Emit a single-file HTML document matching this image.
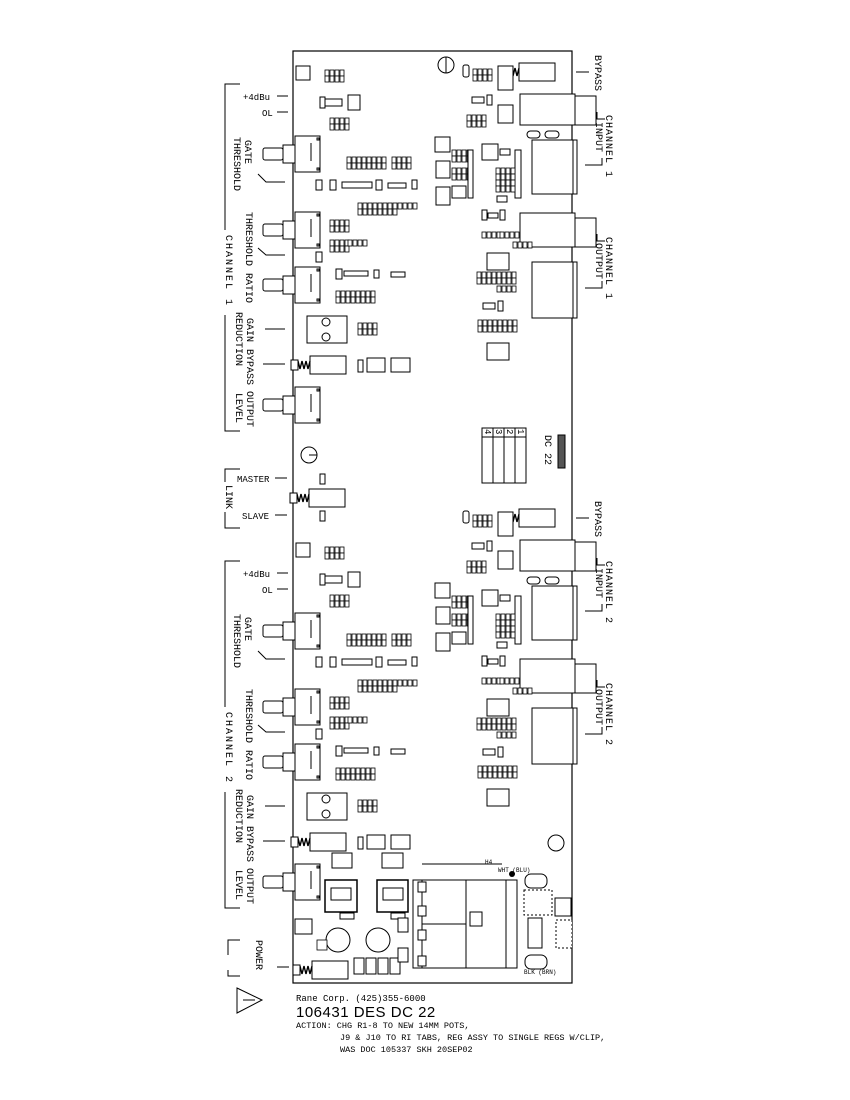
<!DOCTYPE html>
<html><head><meta charset="utf-8"><style>
html,body{margin:0;padding:0;background:#fff;}
svg{display:block;}
text{font-family:"Liberation Mono",monospace;fill:#000;}
</style></head><body>
<svg width="850" height="1100" viewBox="0 0 850 1100" xmlns="http://www.w3.org/2000/svg">
<defs>
<g id="pot">
 <rect x="295" y="0" width="25" height="36" fill="#fff" stroke="#000"/>
 <line x1="311" y1="7" x2="311" y2="25" stroke="#000"/>
 <rect x="317" y="2" width="2" height="2"/><rect x="317" y="32" width="2" height="2"/>
 <rect x="283" y="9" width="12" height="18" fill="#fff" stroke="#000"/>
 <rect x="263" y="12" width="20" height="12" rx="2" fill="#fff" stroke="#000"/>
</g>
<g id="r4"><rect x="0" y="0" width="4" height="6" fill="#fff" stroke="#000" stroke-width=".8"/><rect x="5" y="0" width="4" height="6" fill="#fff" stroke="#000" stroke-width=".8"/><rect x="10" y="0" width="4" height="6" fill="#fff" stroke="#000" stroke-width=".8"/><rect x="15" y="0" width="4" height="6" fill="#fff" stroke="#000" stroke-width=".8"/></g>
<g id="r4b"><use href="#r4"/><use href="#r4" y="6"/></g>
<g id="sw">
 <rect x="0" y="0" width="36" height="18" fill="#fff" stroke="#000"/>
 <path d="M0 5 l-2 8 l-2 -8 l-2 8 l-2 -8 l-2 8 l-2 -8" fill="none" stroke="#000" stroke-width="1.4"/>
 <rect x="-19" y="4" width="7" height="10" fill="#fff" stroke="#000"/>
</g>
<g id="left" fill="#fff" stroke="#000">
 <rect x="296" y="66" width="14" height="14"/>
 <use href="#r4b" x="325" y="70"/>
 <rect x="320" y="99" width="22" height="7"/><rect x="348" y="95" width="12" height="15"/>
 <rect x="320" y="97" width="5" height="11"/>
 <use href="#r4b" x="330" y="118"/>
 <use href="#pot" y="136"/>
 <use href="#r4b" x="347" y="157"/><use href="#r4b" x="367" y="157"/><use href="#r4b" x="392" y="157"/>
 <rect x="316" y="180" width="6" height="10"/><rect x="330" y="180" width="6" height="10"/>
 <rect x="342" y="182" width="30" height="6"/><rect x="376" y="180" width="6" height="10"/>
 <rect x="388" y="183" width="18" height="5"/><rect x="412" y="180" width="5" height="9"/>
 <use href="#r4b" x="358" y="203"/><use href="#r4b" x="378" y="203"/><use href="#r4" x="398" y="203"/>
 <use href="#pot" y="212"/>
 <use href="#r4b" x="330" y="220"/><use href="#r4b" x="330" y="240"/><use href="#r4" x="348" y="240"/>
 <rect x="316" y="252" width="6" height="10"/>
 <use href="#pot" y="267"/>
 <rect x="336" y="269" width="6" height="10"/><rect x="344" y="271" width="24" height="5"/>
 <rect x="374" y="270" width="5" height="8"/><rect x="391" y="272" width="14" height="5"/>
 <use href="#r4b" x="336" y="291"/><use href="#r4" x="356" y="291"/><use href="#r4" x="356" y="297"/>
 <rect x="307" y="316" width="40" height="27"/>
 <circle cx="326" cy="322" r="4"/><circle cx="326" cy="337" r="4"/>
 <use href="#r4b" x="358" y="323"/>
 <use href="#sw" x="310" y="356"/>
 <rect x="358" y="360" width="5" height="12"/><rect x="367" y="358" width="18" height="14"/><rect x="391" y="358" width="19" height="14"/>
 <use href="#pot" y="387"/>
</g>
<g id="right" fill="#fff" stroke="#000">
 <use href="#sw" x="519" y="63"/>
 <rect x="520" y="94" width="55" height="31"/><rect x="575" y="96" width="21" height="29"/>
 <rect x="532" y="140" width="41" height="54"/><rect x="573" y="140" width="4" height="54"/>
 <rect x="527" y="131" width="13" height="7" rx="3.5"/><rect x="545" y="131" width="14" height="7" rx="3.5"/>
 <rect x="463" y="65" width="6" height="12" rx="2"/><use href="#r4" x="473" y="69"/><use href="#r4" x="473" y="75"/>
 <rect x="498" y="66" width="15" height="24"/>
 <rect x="472" y="97" width="12" height="6"/><rect x="487" y="95" width="5" height="10"/>
 <use href="#r4b" x="467" y="115"/><rect x="498" y="105" width="15" height="18"/>
 <rect x="435" y="137" width="15" height="15"/><rect x="436" y="161" width="14" height="17"/><rect x="436" y="187" width="14" height="18"/>
 <use href="#r4b" x="452" y="150"/><use href="#r4b" x="452" y="168"/><rect x="452" y="186" width="14" height="12"/>
 <rect x="468" y="150" width="5" height="48"/><rect x="515" y="150" width="6" height="48"/>
 <rect x="482" y="144" width="16" height="16"/><rect x="500" y="149" width="10" height="6"/>
 <use href="#r4b" x="496" y="168"/><use href="#r4b" x="496" y="180"/><rect x="497" y="196" width="10" height="6"/>
 <rect x="482" y="210" width="5" height="10"/><rect x="488" y="213" width="10" height="5"/><rect x="500" y="210" width="5" height="10"/>
 <rect x="520" y="213" width="55" height="34"/><rect x="575" y="218" width="21" height="29"/>
 <use href="#r4" x="482" y="232"/><use href="#r4" x="500" y="232"/>
 <rect x="487" y="253" width="22" height="17"/><use href="#r4" x="513" y="242"/>
 <use href="#r4b" x="477" y="272"/><use href="#r4b" x="497" y="272"/><use href="#r4" x="497" y="286"/>
 <rect x="532" y="262" width="41" height="56"/><rect x="573" y="262" width="4" height="56"/>
 <rect x="483" y="303" width="12" height="6"/><rect x="498" y="301" width="5" height="10"/>
 <use href="#r4b" x="478" y="320"/><use href="#r4b" x="498" y="320"/>
 <rect x="487" y="343" width="22" height="17"/>
</g>
</defs>

<rect x="293" y="51" width="279" height="932" fill="#fff" stroke="#000" stroke-width="1.2"/>
<use href="#left"/>
<use href="#left" y="477"/>
<use href="#right"/>
<use href="#right" y="446"/>

<g fill="#fff" stroke="#000">
<circle cx="446" cy="65" r="8"/><line x1="446" y1="57" x2="446" y2="73"/>
<circle cx="309" cy="455" r="8"/><line x1="309" y1="455" x2="317" y2="455"/>
<circle cx="556" cy="843" r="8"/>
<use href="#sw" x="309" y="489"/>
<rect x="320" y="474" width="5" height="10"/><rect x="320" y="511" width="5" height="10"/>
<rect x="482" y="428" width="44" height="55"/>
<line x1="482" y1="437" x2="526" y2="437"/>
<line x1="493" y1="428" x2="493" y2="483"/><line x1="504" y1="428" x2="504" y2="483"/><line x1="515" y1="428" x2="515" y2="483"/>
<rect x="558" y="435" width="7" height="33" fill="#555"/>
<rect x="332" y="853" width="20" height="15"/><rect x="382" y="853" width="21" height="15"/>
<rect x="325" y="880" width="32" height="32" stroke-width="1.5"/><rect x="331" y="888" width="20" height="12"/>
<rect x="377" y="880" width="31" height="32" stroke-width="1.5"/><rect x="383" y="888" width="20" height="12"/>
<rect x="340" y="913" width="14" height="6"/><rect x="391" y="913" width="14" height="6"/>
<circle cx="338" cy="940" r="12"/><circle cx="378" cy="940" r="12"/>
<rect x="295" y="919" width="17" height="15"/>
<use href="#sw" x="312" y="961"/>
<rect x="354" y="958" width="10" height="16"/><rect x="366" y="958" width="10" height="16"/><rect x="378" y="958" width="10" height="16"/><rect x="390" y="958" width="10" height="16"/>
<rect x="398" y="918" width="10" height="14"/><rect x="398" y="948" width="10" height="14"/>
<rect x="413" y="880" width="10" height="88" fill="none"/>
<rect x="422" y="880" width="95" height="88"/>
<line x1="466" y1="880" x2="466" y2="968"/><line x1="422" y1="924" x2="466" y2="924"/>
<rect x="506" y="880" width="11" height="88"/>
<rect x="418" y="882" width="8" height="10"/><rect x="418" y="906" width="8" height="10"/><rect x="418" y="930" width="8" height="10"/><rect x="418" y="956" width="8" height="10"/>
<rect x="470" y="912" width="12" height="14"/>
<rect x="525" y="874" width="22" height="14" rx="6"/><rect x="525" y="955" width="22" height="14" rx="6"/>
<rect x="524" y="890" width="28" height="25" stroke-dasharray="2 2"/>
<rect x="528" y="918" width="14" height="30"/>
<rect x="555" y="898" width="16" height="18"/>
<rect x="556" y="920" width="16" height="28" stroke-dasharray="2 2"/>
<line x1="422" y1="864" x2="502" y2="864"/>
</g>
<circle cx="512" cy="874" r="3"/>
<rect x="317" y="940" width="10" height="10" fill="#fff" stroke="#000" stroke-width=".8"/>

<g stroke="#000" fill="none">
<path d="M240 84 H225 V230 M225 315 V431 H240"/>
<path d="M240 561 H225 V707 M225 792 V908 H240"/>
<path d="M240 469 H225 V482 M225 512 V528 H240"/>
<path d="M240 940 H228 V955 M228 970 V976 H240"/>
<line x1="277" y1="96" x2="288" y2="96"/><line x1="277" y1="112" x2="288" y2="112"/>
<line x1="277" y1="573" x2="288" y2="573"/><line x1="277" y1="589" x2="288" y2="589"/>
<line x1="275" y1="478" x2="287" y2="478"/><line x1="275" y1="515" x2="287" y2="515"/>
<path d="M258 174 L266 182 H285"/><path d="M258 248 L266 255 H285"/>
<path d="M258 651 L266 659 H285"/><path d="M258 725 L266 732 H285"/>
<line x1="265" y1="329" x2="285" y2="329"/><line x1="263" y1="364" x2="285" y2="364"/>
<line x1="265" y1="806" x2="285" y2="806"/><line x1="263" y1="841" x2="285" y2="841"/>
<line x1="277" y1="967" x2="289" y2="967"/>
<line x1="576" y1="72" x2="589" y2="72"/><line x1="576" y1="518" x2="589" y2="518"/>
<path d="M597 112 V119 H605 M585 165 H602 V158"/>
<path d="M597 234 V241 H605 M585 288 H602 V281"/>
<path d="M597 558 V565 H605 M585 611 H602 V604"/>
<path d="M597 680 V687 H605 M585 734 H602 V727"/>
<path d="M237 988 L262 1000 L237 1013 Z"/>
<line x1="243" y1="1000" x2="255" y2="1000"/>
</g>

<g font-size="9">
<text x="243" y="100">+4dBu</text><text x="262" y="116">OL</text>
<text x="243" y="577">+4dBu</text><text x="262" y="593">OL</text>
<text x="237" y="482">MASTER</text><text x="242" y="519">SLAVE</text>
</g>
<g font-size="10">
<text transform="translate(245,140) rotate(90)">GATE</text>
<text transform="translate(234,137) rotate(90)">THRESHOLD</text>
<text transform="translate(246,212) rotate(90)">THRESHOLD</text>
<text transform="translate(246,273) rotate(90)">RATIO</text>
<text transform="translate(247,318) rotate(90)">GAIN</text>
<text transform="translate(236,312) rotate(90)">REDUCTION</text>
<text transform="translate(247,349) rotate(90)">BYPASS</text>
<text transform="translate(247,391) rotate(90)">OUTPUT</text>
<text transform="translate(236,393) rotate(90)">LEVEL</text>
<text transform="translate(226,235) rotate(90)" letter-spacing="2">CHANNEL 1</text>
<text transform="translate(245,617) rotate(90)">GATE</text>
<text transform="translate(234,614) rotate(90)">THRESHOLD</text>
<text transform="translate(246,689) rotate(90)">THRESHOLD</text>
<text transform="translate(246,750) rotate(90)">RATIO</text>
<text transform="translate(247,795) rotate(90)">GAIN</text>
<text transform="translate(236,789) rotate(90)">REDUCTION</text>
<text transform="translate(247,826) rotate(90)">BYPASS</text>
<text transform="translate(247,868) rotate(90)">OUTPUT</text>
<text transform="translate(236,870) rotate(90)">LEVEL</text>
<text transform="translate(226,712) rotate(90)" letter-spacing="2">CHANNEL 2</text>
<text transform="translate(226,485) rotate(90)">LINK</text>
<text transform="translate(256,940) rotate(90)">POWER</text>
<text transform="translate(595,55) rotate(90)">BYPASS</text>
<text transform="translate(606,115) rotate(90)" letter-spacing="1">CHANNEL 1</text>
<text transform="translate(596,122) rotate(90)">INPUT</text>
<text transform="translate(606,237) rotate(90)" letter-spacing="1">CHANNEL 1</text>
<text transform="translate(596,243) rotate(90)">OUTPUT</text>
<text transform="translate(595,501) rotate(90)">BYPASS</text>
<text transform="translate(606,561) rotate(90)" letter-spacing="1">CHANNEL 2</text>
<text transform="translate(596,568) rotate(90)">INPUT</text>
<text transform="translate(606,683) rotate(90)" letter-spacing="1">CHANNEL 2</text>
<text transform="translate(596,689) rotate(90)">OUTPUT</text>
<text transform="translate(545,435) rotate(90)">DC 22</text>
<text transform="translate(485,429) rotate(90)" font-size="9">4</text>
<text transform="translate(496,429) rotate(90)" font-size="9">3</text>
<text transform="translate(507,429) rotate(90)" font-size="9">2</text>
<text transform="translate(518,429) rotate(90)" font-size="9">1</text>
</g>
<g font-size="6">
<text x="498" y="872">WHT (BLU)</text><text x="524" y="974">BLK (BRN)</text><text x="485" y="864">H4</text>
</g>
<text x="296" y="1001" font-size="9">Rane Corp.  (425)355-6000</text>
<text x="296" y="1017" style="font-family:'Liberation Sans',sans-serif;font-size:15px;letter-spacing:0.5px">106431 DES DC 22</text>
<g font-size="8.5">
<text x="296" y="1028">ACTION: CHG R1-8 TO NEW 14MM POTS,</text>
<text x="340" y="1040">J9 &amp; J10 TO RI TABS, REG ASSY TO SINGLE REGS W/CLIP,</text>
<text x="340" y="1052">WAS DOC 105337 SKH 20SEP02</text>
</g>
</svg>
</body></html>
